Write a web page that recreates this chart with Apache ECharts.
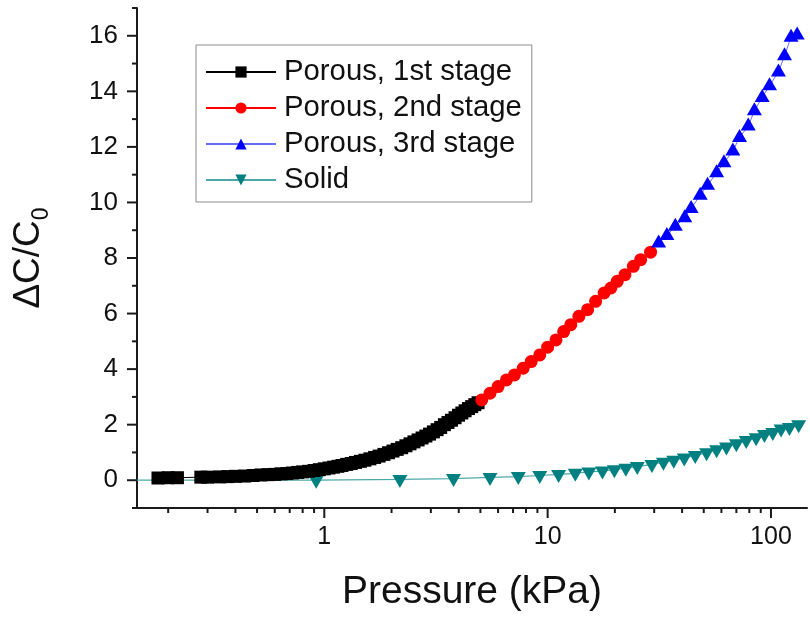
<!DOCTYPE html>
<html>
<head>
<meta charset="utf-8">
<script src="https://cdn.jsdelivr.net/npm/echarts@6/dist/echarts.min.js"></script>
<style>
html,body{margin:0;padding:0;background:#fff;}
#c{width:810px;height:617px;}
</style>
</head>
<body>
<div id="c"></div>
<script>
// ---- data ----
const seriesNames = ['Porous, 1st stage', 'Porous, 2nd stage', 'Porous, 3rd stage', 'Solid'];

const xP1 = [0.18,0.20,0.22,0.28,0.30,0.34,0.37,0.40,0.44,0.48,0.52,0.56,0.60,0.64,0.68,0.72,0.76,0.80,0.85,0.90,0.95,1.00,1.05,1.10,1.15,1.20,1.26,1.32,1.38,1.45,1.52,1.60,1.68,1.76,1.85,1.94,2.03,2.12,2.22,2.32,2.42,2.52,2.63,2.74,2.85,2.96,3.08,3.20,3.32,3.45,3.58,3.71,3.85,3.99,4.13,4.27,4.42,4.57,4.72,4.88];
const yP1 = [0.08,0.09,0.09,0.11,0.11,0.12,0.13,0.14,0.15,0.17,0.19,0.20,0.21,0.23,0.24,0.26,0.28,0.30,0.32,0.35,0.38,0.41,0.44,0.47,0.50,0.53,0.57,0.60,0.64,0.68,0.72,0.77,0.82,0.87,0.93,0.99,1.05,1.11,1.17,1.24,1.31,1.38,1.45,1.52,1.59,1.66,1.74,1.82,1.90,2.00,2.08,2.16,2.25,2.34,2.42,2.50,2.58,2.65,2.72,2.79];

const xP2 = [5.07,5.52,6.0,6.54,7.1,7.77,8.44,9.22,10.0,10.9,11.8,12.7,13.8,15.1,16.4,17.9,19.2,20.5,22.2,24.2,26.1,28.9];
const yP2 = [2.89,3.13,3.37,3.61,3.79,4.03,4.27,4.51,4.79,5.05,5.35,5.6,5.9,6.14,6.44,6.74,6.92,7.16,7.4,7.7,7.94,8.21];

const xP3 = [31.4,34.2,37.3,41.1,43.9,48.2,52.0,57.1,61.6,67.5,72.3,79.1,84.3,91.3,98.5,108,115,123,131];
const yP3 = [8.54,8.81,9.14,9.45,9.78,10.26,10.62,11.07,11.43,11.85,12.34,12.75,13.3,13.78,14.2,14.7,15.28,15.95,16.03];

const xS = [0.12,0.92,2.18,3.79,5.52,7.39,9.22,11.2,13.3,15.3,17.6,19.9,22.4,25.2,29.3,33.0,36.7,40.9,45.8,51.5,57.1,63.2,70.0,77.5,85.8,93.5,101.9,111,121,133];
const yS = [0.0,0.0,0.03,0.06,0.1,0.13,0.17,0.21,0.25,0.3,0.33,0.38,0.43,0.49,0.57,0.65,0.72,0.8,0.89,0.99,1.1,1.2,1.31,1.43,1.53,1.65,1.72,1.84,1.9,2.0];

// axis ranges and ticks
const X_MIN = 0.145, X_MAX = 145;
const Y_MIN = -1, Y_MAX = 17;
const xMajorTicks = [1, 10, 100];
const xMinorTicks = [0.2,0.3,0.4,0.5,0.6,0.7,0.8,0.9,2,3,4,5,6,7,8,9,20,30,40,50,60,70,80,90];
const yMajorTicks = [0,2,4,6,8,10,12,14,16];
const yMinorTicks = [-1,1,3,5,7,9,11,13,15,17];

// ---- chart ----
const FONT = 'Liberation Sans, Arial, sans-serif';
const AX = '#1a1a1a';
const zip = (xs, ys) => xs.map((x, i) => [x, ys[i]]);

function tickSeries(vals, dir, len) {
  return {
    type: 'custom', silent: true, clip: false, z: 10,
    data: vals.map(v => dir === 'x' ? [v, Y_MIN] : [X_MIN, v]),
    renderItem: function (params, api) {
      const p = api.coord([api.value(0), api.value(1)]);
      const shape = dir === 'x'
        ? { x1: p[0], y1: p[1], x2: p[0], y2: p[1] + len }
        : { x1: p[0] - len, y1: p[1], x2: p[0], y2: p[1] };
      return { type: 'line', shape: shape, style: { stroke: AX, lineWidth: 2 } };
    }
  };
}

const chart = echarts.init(document.getElementById('c'), null, { renderer: 'canvas' });
chart.setOption({
  animation: false,
  backgroundColor: '#fff',
  textStyle: { fontFamily: FONT },
  grid: { left: 137, right: -3, top: 8, bottom: 109, containLabel: false },
  legend: {
    data: seriesNames,
    orient: 'vertical',
    left: 196, top: 45,
    padding: [12, 10, 7, 9],
    itemGap: 6,
    itemWidth: 70, itemHeight: 14,
    borderColor: '#8c8c8c', borderWidth: 1,
    textStyle: { fontSize: 29.3, color: '#111', fontFamily: FONT, lineHeight: 30, padding: [0, 0, 0, 3] }
  },
  xAxis: {
    type: 'log', logBase: 10, min: X_MIN, max: X_MAX,
    axisLine: { show: true, onZero: false, lineStyle: { color: AX, width: 2 } },
    axisTick: { show: false },
    minorTick: { show: false },
    splitLine: { show: false },
    axisLabel: {
      fontSize: 25, color: '#111', margin: 17, fontFamily: FONT,
      formatter: function (v) {
        const l = Math.log10(v);
        return Math.abs(l - Math.round(l)) < 1e-6 && v >= 0.99 ? String(Math.round(v)) : '';
      }
    },
    name: 'Pressure (kPa)', nameLocation: 'middle', nameGap: 65,
    nameTextStyle: { fontSize: 39, color: '#111', fontFamily: FONT }
  },
  yAxis: {
    type: 'value', min: Y_MIN, max: Y_MAX, interval: 1,
    axisLine: { show: true, onZero: false, lineStyle: { color: AX, width: 2 } },
    axisTick: { show: false },
    splitLine: { show: false },
    axisLabel: {
      fontSize: 26, color: '#111', margin: 19, fontFamily: FONT,
      formatter: function (v) { return (Math.round(v) % 2 === 0) ? String(Math.round(v)) : ''; }
    },
    name: 'ΔC/C{s|0}', nameLocation: 'middle', nameGap: 84, nameRotate: 90,
    nameTextStyle: {
      fontSize: 37, color: '#111', fontFamily: FONT,
      rich: { s: { fontSize: 23, color: '#111', fontFamily: FONT, padding: [26, 0, 0, 0] } }
    }
  },
  series: [
    {
      name: seriesNames[3], type: 'line', z: 2,
      data: zip(xS, yS),
      symbol: 'triangle', symbolRotate: 180, symbolSize: [15, 13], symbolOffset: [0, 2],
      itemStyle: { color: '#008080' },
      lineStyle: { color: '#4fa8a8', width: 1.2 },
      clip: true
    },
    {
      name: seriesNames[0], type: 'line', z: 3,
      data: zip(xP1, yP1),
      symbol: 'rect', symbolSize: 13,
      itemStyle: { color: '#000' },
      lineStyle: { color: '#000', width: 1 }
    },
    {
      name: seriesNames[1], type: 'line', z: 4,
      data: zip(xP2, yP2),
      symbol: 'circle', symbolSize: 13,
      itemStyle: { color: '#ff0000' },
      lineStyle: { color: '#ff0000', width: 1 }
    },
    {
      name: seriesNames[2], type: 'line', z: 4,
      data: zip(xP3, yP3),
      symbol: 'triangle', symbolSize: [15, 13], symbolOffset: [0, -2],
      itemStyle: { color: '#0000ff' },
      lineStyle: { color: '#6a6aff', width: 1 }
    },
    tickSeries(xMajorTicks, 'x', 10),
    tickSeries(xMinorTicks, 'x', 5),
    tickSeries(yMajorTicks, 'y', 10),
    tickSeries(yMinorTicks, 'y', 5)
  ]
});
</script>
</body>
</html>
